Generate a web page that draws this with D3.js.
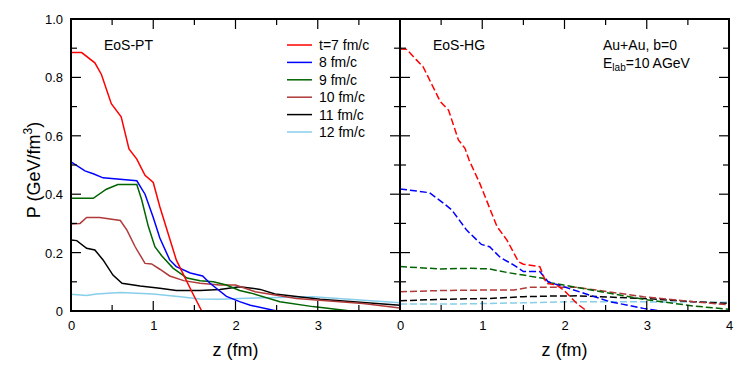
<!DOCTYPE html>
<html>
<head>
<meta charset="utf-8">
<script src="https://cdn.jsdelivr.net/npm/d3@7"></script>
<style>
  html, body { margin: 0; padding: 0; background: #fff; }
  svg { display: block; font-family: "Liberation Sans", Arial, sans-serif; }
</style>
</head>
<body>
<div id="chart"></div>
<script>
// series labels and colours
const labels = ['t=7 fm/c', '8 fm/c', '9 fm/c', '10 fm/c', '11 fm/c', '12 fm/c'];
const colors = ['#ff0000', '#0000ff', '#006400', '#b03a3a', '#000000', '#87ceeb'];

// EoS-PT (solid), [z, P]
const pt7 = [[0,0.885],[0.13,0.885],[0.29,0.85],[0.37,0.81],[0.49,0.71],[0.61,0.665],[0.705,0.555],[0.8,0.52],[0.9,0.465],[1.0,0.44],[1.08,0.357],[1.28,0.175],[1.48,0.06],[1.59,0],[4,0]];
const pt8 = [[0,0.511],[0.17,0.48],[0.27,0.47],[0.39,0.456],[0.8,0.446],[0.9,0.40],[1.0,0.32],[1.08,0.25],[1.2,0.175],[1.28,0.152],[1.45,0.13],[1.6,0.12],[1.69,0.095],[1.89,0.05],[2.05,0.032],[2.18,0.02],[2.5,0],[4,0]];
const pt9 = [[0,0.386],[0.27,0.386],[0.43,0.417],[0.57,0.433],[0.8,0.433],[0.86,0.38],[0.94,0.29],[1.02,0.22],[1.1,0.19],[1.24,0.147],[1.41,0.113],[1.57,0.104],[1.73,0.10],[1.89,0.089],[2.05,0.07],[2.18,0.062],[2.54,0.032],[2.94,0.015],[3.4,0],[4,0]];
const pt10 = [[0,0.298],[0.11,0.30],[0.19,0.32],[0.35,0.32],[0.6,0.31],[0.68,0.277],[0.78,0.22],[0.9,0.163],[0.98,0.161],[1.08,0.143],[1.2,0.12],[1.37,0.104],[1.57,0.095],[1.81,0.089],[2.0,0.089],[2.24,0.066],[2.74,0.043],[3.55,0.026],[4,0.01]];
const pt11 = [[0,0.243],[0.07,0.241],[0.19,0.215],[0.29,0.209],[0.39,0.175],[0.51,0.123],[0.62,0.095],[0.84,0.086],[1.08,0.078],[1.28,0.07],[1.57,0.07],[1.81,0.074],[2.05,0.083],[2.3,0.074],[2.48,0.058],[3.03,0.04],[4,0.02]];
const pt12 = [[0,0.057],[0.19,0.053],[0.31,0.058],[0.6,0.063],[1.0,0.058],[1.33,0.049],[1.57,0.041],[1.81,0.04],[2.05,0.043],[2.94,0.049],[4,0.028]];

// EoS-HG (dashed), [z, P]
const hg7 = [[0,0.897],[0.08,0.896],[0.2,0.86],[0.28,0.837],[0.39,0.774],[0.49,0.717],[0.59,0.688],[0.71,0.586],[0.79,0.557],[0.84,0.517],[0.97,0.437],[1.18,0.289],[1.3,0.243],[1.44,0.169],[1.5,0.16],[1.7,0.152],[1.78,0.095],[1.9,0.089],[1.99,0.072],[2.07,0.049],[2.15,0.026],[2.27,0],[4,0]];
const hg8 = [[0,0.418],[0.36,0.405],[0.53,0.369],[0.63,0.346],[0.81,0.277],[0.99,0.228],[1.09,0.22],[1.22,0.183],[1.38,0.158],[1.5,0.135],[1.7,0.135],[1.8,0.10],[2.07,0.076],[2.55,0.032],[2.96,0.009],[3.16,0],[4,0]];
const hg9 = [[0,0.152],[0.49,0.144],[0.85,0.146],[1.09,0.144],[1.3,0.132],[1.5,0.123],[1.66,0.115],[1.74,0.112],[1.82,0.097],[1.99,0.089],[2.96,0.04],[3.57,0.017],[4,0.006]];
const hg10 = [[0,0.066],[0.49,0.07],[1.09,0.072],[1.38,0.072],[1.58,0.081],[2.15,0.081],[2.96,0.049],[3.57,0.032],[4,0.021]];
const hg11 = [[0,0.035],[0.49,0.04],[1.09,0.043],[1.5,0.049],[1.82,0.051],[2.15,0.052],[2.96,0.043],[3.57,0.032],[4,0.026]];
const hg12 = [[0,0.024],[0.69,0.024],[1.5,0.028],[2.07,0.032],[2.44,0.032],[4,0.03]];

const ptSeries = [pt7, pt8, pt9, pt10, pt11, pt12];
const hgSeries = [hg7, hg8, hg9, hg10, hg11, hg12];

const W = 747, H = 375;
const pLeft = 71, pMid = 400, pRight = 729, pTop = 19, pBottom = 311;

const svg = d3.select('#chart').append('svg')
  .attr('width', W).attr('height', H);

const y = d3.scaleLinear().domain([0, 1]).range([pBottom, pTop]);
const xL = d3.scaleLinear().domain([0, 4]).range([pLeft, pMid]);
const xR = d3.scaleLinear().domain([0, 4]).range([pMid, pRight]);

svg.append('clipPath').attr('id', 'clipL').append('rect')
  .attr('x', pLeft).attr('y', pTop).attr('width', pMid - pLeft).attr('height', pBottom - pTop);
svg.append('clipPath').attr('id', 'clipR').append('rect')
  .attr('x', pMid).attr('y', pTop).attr('width', pRight - pMid).attr('height', pBottom - pTop);

function drawCurves(series, x, clip, dashed) {
  const line = d3.line().x(d => x(d[0])).y(d => y(d[1]));
  // draw last series first so red ends on top
  const items = series.map((s, i) => ({ s, i })).reverse();
  svg.append('g').attr('clip-path', `url(#${clip})`)
    .selectAll('path')
    .data(items)
    .enter()
    .append('path')
      .attr('d', d => line(d.s))
      .attr('fill', 'none')
      .attr('stroke', d => colors[d.i])
      .attr('stroke-width', 1.5)
      .attr('stroke-dasharray', dashed ? '7,3' : null);
}

drawCurves(ptSeries, xL, 'clipL', false);
drawCurves(hgSeries, xR, 'clipR', true);

// frames and ticks
function panelAxes(x, x0, x1, showLast) {
  const g = svg.append('g');
  g.append('g').attr('transform', `translate(0,${pBottom})`)
    .call(d3.axisBottom(x).tickValues([0, 1, 2, 3, 4].filter(v => showLast || v < 4))
      .tickSize(0).tickPadding(10).tickFormat(d3.format('d')))
    .call(a => a.select('.domain').remove())
    .selectAll('text').attr('font-size', 13).attr('font-family', 'Liberation Sans, Arial, sans-serif');
  const ticksX = d3.range(0, 4.01, 0.5);
  ticksX.forEach(v => {
    const len = Number.isInteger(v) ? 10 : 6;
    g.append('line').attr('x1', x(v)).attr('x2', x(v)).attr('y1', pBottom).attr('y2', pBottom - len)
      .attr('stroke', '#000').attr('stroke-width', 1.2);
    g.append('line').attr('x1', x(v)).attr('x2', x(v)).attr('y1', pTop).attr('y2', pTop + len)
      .attr('stroke', '#000').attr('stroke-width', 1.2);
  });
  const ticksY = d3.range(0, 1.001, 0.1);
  ticksY.forEach((v, i) => {
    const len = i % 2 === 0 ? 10 : 6;
    g.append('line').attr('x1', x0).attr('x2', x0 + len).attr('y1', y(v)).attr('y2', y(v))
      .attr('stroke', '#000').attr('stroke-width', 1.2);
    g.append('line').attr('x1', x1).attr('x2', x1 - len).attr('y1', y(v)).attr('y2', y(v))
      .attr('stroke', '#000').attr('stroke-width', 1.2);
  });
  g.append('rect').attr('x', x0).attr('y', pTop).attr('width', x1 - x0).attr('height', pBottom - pTop)
    .attr('fill', 'none').attr('stroke', '#000').attr('stroke-width', 2);
  svg.append('text')
    .attr('x', (x0 + x1) / 2).attr('y', 356)
    .attr('text-anchor', 'middle').attr('font-size', 18)
    .text('z (fm)');
}
panelAxes(xL, pLeft, pMid, false);
panelAxes(xR, pMid, pRight, true);

// y tick labels
const yTickLabels = ['0', '0.2', '0.4', '0.6', '0.8', '1.0'];
svg.append('g').selectAll('text')
  .data(yTickLabels)
  .enter()
  .append('text')
    .attr('x', pLeft - 8)
    .attr('y', d => y(+d) + 5)
    .attr('text-anchor', 'end')
    .attr('font-size', 13)
    .text(d => d);

// y axis title
const yt = svg.append('text')
  .attr('transform', 'translate(40,170) rotate(-90)')
  .attr('text-anchor', 'middle')
  .attr('font-size', 18);
yt.append('tspan').text('P (GeV/fm');
yt.append('tspan').attr('font-size', 12).attr('dy', -8).text('3');
yt.append('tspan').attr('dy', 8).text(')');

// legend
const legend = svg.append('g');
labels.forEach((t, i) => {
  const ly = 45 + i * 17.4;
  legend.append('line').attr('x1', 287).attr('x2', 312).attr('y1', ly).attr('y2', ly)
    .attr('stroke', colors[i]).attr('stroke-width', 1.5);
  legend.append('text').attr('x', 319).attr('y', ly + 5).attr('font-size', 14).text(t);
});

// annotations
svg.append('text').attr('x', 104).attr('y', 50).attr('font-size', 14).text('EoS-PT');
svg.append('text').attr('x', 433).attr('y', 50).attr('font-size', 14).text('EoS-HG');
svg.append('text').attr('x', 603).attr('y', 50).attr('font-size', 14).text('Au+Au, b=0');
const el = svg.append('text').attr('x', 603).attr('y', 68).attr('font-size', 14);
el.append('tspan').text('E');
el.append('tspan').attr('font-size', 10).attr('dy', 3).text('lab');
el.append('tspan').attr('dy', -3).text('=10 AGeV');
</script>
</body>
</html>
